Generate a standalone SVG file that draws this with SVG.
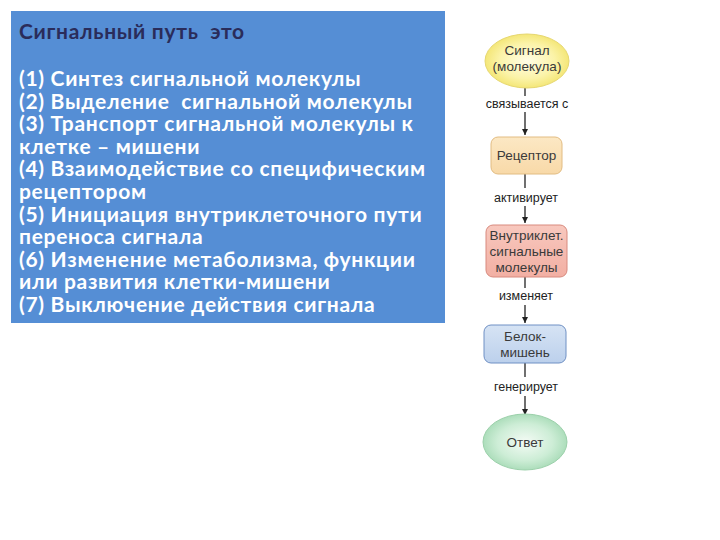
<svg xmlns="http://www.w3.org/2000/svg" width="720" height="540" viewBox="0 0 720 540">
<defs>
<radialGradient id="gY" cx="50%" cy="50%" r="55%"><stop offset="0" stop-color="#FFFDE6"/><stop offset="0.6" stop-color="#FBF3A8"/><stop offset="1" stop-color="#F2E36A"/></radialGradient>
<radialGradient id="gG" cx="50%" cy="50%" r="55%"><stop offset="0" stop-color="#F4FBF5"/><stop offset="0.6" stop-color="#CDEDD6"/><stop offset="1" stop-color="#A3D9B3"/></radialGradient>
<linearGradient id="gR" x1="0" y1="0" x2="0" y2="1"><stop offset="0" stop-color="#FCE8C4"/><stop offset="1" stop-color="#F8D9A8"/></linearGradient>
<linearGradient id="gP" x1="0" y1="0" x2="0" y2="1"><stop offset="0" stop-color="#F8C8BE"/><stop offset="1" stop-color="#F2AFA3"/></linearGradient>
<linearGradient id="gB" x1="0" y1="0" x2="0" y2="1"><stop offset="0" stop-color="#D6E3F4"/><stop offset="1" stop-color="#BCD0EC"/></linearGradient>
<marker id="ah" viewBox="0 0 10 10" refX="10" refY="5" markerWidth="6" markerHeight="8" markerUnits="userSpaceOnUse" orient="auto"><path d="M0,0 L10,5 L0,10 Z" fill="#222"/></marker>
</defs>
<style>
.t{font-family:Lato,"Open Sans","Noto Sans",sans-serif;font-weight:bold;font-size:21px;letter-spacing:0.7px;fill:#FFFFFF;white-space:pre}
.h{fill:#2A2C5A}
.n{font-family:"Liberation Sans",Arial,sans-serif;font-size:13.5px;fill:#3A3A3A;text-anchor:middle}
.l{font-family:"Liberation Sans",Arial,sans-serif;font-size:12.5px;fill:#222;text-anchor:middle}
.c{stroke:#222;stroke-width:1.3;fill:none}
</style>
<rect width="720" height="540" fill="#FFFFFF"/>
<g id="textbox">
<rect x="11" y="11" width="434" height="312" fill="#558ED5"/>
<text class="t h" x="19" y="39" xml:space="preserve">Сигнальный путь  это</text>
<text class="t" x="19" y="86">(1) Синтез сигнальной молекулы</text>
<text class="t" x="19" y="108.6" xml:space="preserve">(2) Выделение  сигнальной молекулы</text>
<text class="t" x="19" y="131.2">(3) Транспорт сигнальной молекулы к</text>
<text class="t" x="19" y="153.8">клетке – мишени</text>
<text class="t" x="19" y="176.4">(4) Взаимодействие со специфическим</text>
<text class="t" x="19" y="199">рецептором</text>
<text class="t" x="19" y="221.6">(5) Инициация внутриклеточного пути</text>
<text class="t" x="19" y="244.2">переноса сигнала</text>
<text class="t" x="19" y="266.8">(6) Изменение метаболизма, функции</text>
<text class="t" x="19" y="289.4">или развития клетки-мишени</text>
<text class="t" x="19" y="312">(7) Выключение действия сигнала</text>
</g>
<g id="connectors">
<line class="c" x1="525" y1="88" x2="525" y2="96"/>
<text class="l" x="527" y="108">связывается с</text>
<line class="c" x1="525" y1="112" x2="525" y2="135" marker-end="url(#ah)"/>
<line class="c" x1="525" y1="174" x2="525" y2="188"/>
<text class="l" x="526" y="202">активирует</text>
<line class="c" x1="525" y1="206" x2="525" y2="223" marker-end="url(#ah)"/>
<line class="c" x1="525" y1="277" x2="525" y2="288"/>
<text class="l" x="526" y="300">изменяет</text>
<line class="c" x1="525" y1="305" x2="525" y2="323" marker-end="url(#ah)"/>
<line class="c" x1="525" y1="363" x2="525" y2="377"/>
<text class="l" x="526" y="391">генерирует</text>
<line class="c" x1="525" y1="396" x2="525" y2="415" marker-end="url(#ah)"/>
</g>
<g id="signal">
<ellipse cx="527" cy="61" rx="42" ry="27" fill="url(#gY)" stroke="#E6D770" stroke-width="1"/>
<text class="n" x="527" y="55">Сигнал</text>
<text class="n" x="527" y="71">(молекула)</text>
</g>
<g id="receptor">
<rect x="491" y="137" width="71" height="37" rx="7" fill="url(#gR)" stroke="#E2BC82" stroke-width="1"/>
<text class="n" x="526.5" y="160">Рецептор</text>
</g>
<g id="intracellular">
<rect x="486" y="225" width="81" height="52" rx="7" fill="url(#gP)" stroke="#D88A7E" stroke-width="1"/>
<text class="n" x="526.5" y="240">Внутриклет.</text>
<text class="n" x="526.5" y="256">сигнальные</text>
<text class="n" x="526.5" y="272">молекулы</text>
</g>
<g id="target">
<rect x="484" y="325" width="82" height="38" rx="7" fill="url(#gB)" stroke="#6F90C4" stroke-width="1"/>
<text class="n" x="525" y="341">Белок-</text>
<text class="n" x="525" y="357">мишень</text>
</g>
<g id="response">
<ellipse cx="525" cy="442" rx="42" ry="28" fill="url(#gG)" stroke="#9BD0AA" stroke-width="1"/>
<text class="n" x="525" y="447">Ответ</text>
</g>
</svg>
